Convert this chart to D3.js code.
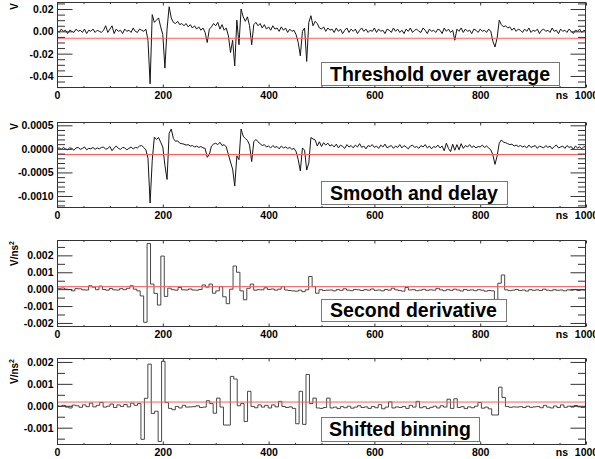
<!DOCTYPE html>
<html><head><meta charset="utf-8">
<script src="https://cdn.jsdelivr.net/npm/d3@7"></script>
<style>
body{margin:0;background:#fff;}
svg text{font-family:"Liberation Sans",Arial,Helvetica,sans-serif;font-weight:bold;fill:#000;}
</style></head>
<body><svg id="c" width="595" height="459"></svg>
<script>
// ---------------- DATA ----------------
const sampleStepNs = 4;               // waveform sampling grid (0..1000 ns)
// Panel 1: raw waveform, mV
const waveMilliV = [
 1,-1,2,0,1,-2,1,0,-1,2,
 0,1,-1,2,-2,1,0,2,-1,1,
 0,-1,1,5,-1,2,5,-2,2,0,
 1,-2,2,0,1,-1,3,0,-1,2,
 1,0,2,-8,-47,15,8,10,12,4,
 -3,-33,2,22,12,8,7,9,6,7,
 5,7,4,6,3,5,2,4,1,3,
 -1,-10,2,4,7,5,8,2,6,1,
 3,-4,-19,-8,-31,10,-12,20,13,9,
 13,5,-12,6,8,5,7,3,6,2,
 4,1,5,2,3,0,4,1,3,-1,
 2,0,1,-3,-10,-22,0,3,-27,8,
 14,5,9,7,3,2,4,0,3,1,
 2,-1,3,0,2,-2,1,3,-1,2,
 0,2,-2,1,3,0,2,-1,1,0,
 3,-1,2,0,1,-2,2,1,-1,3,
 0,2,-1,1,-2,2,0,3,-1,1,
 2,0,-1,3,1,-2,2,0,1,-1,
 2,1,-2,3,0,2,-1,1,-8,2,
 0,3,-1,2,0,1,-2,2,1,-1,
 2,0,1,-1,2,0,-9,-14,-6,10,
 6,4,5,3,4,1,3,0,2,1,
 -1,2,0,3,-1,1,0,2,-2,1,
 2,0,1,-1,3,0,1,-2,2,0,
 1,-1,2,0,-2,1,0,2,-1,1,
 0
];
// Panel 2: smoothed & delayed, microvolts
const smoothMicroV = [
 10,20,-10,30,0,-20,20,10,-30,20,
 30,-10,10,40,-20,10,0,30,-10,20,
 0,30,40,-10,10,50,-40,20,60,10,
 -10,30,20,-20,10,40,0,30,20,60,
 70,30,-20,-200,-1150,-250,250,200,240,140,
 40,-350,-650,330,420,220,160,170,120,110,
 100,80,90,60,70,40,60,30,50,20,
 10,-180,-120,60,100,120,90,140,70,90,
 40,-120,-280,-430,-790,-150,-230,420,270,220,
 180,80,-270,150,200,150,110,70,90,40,
 60,20,70,30,50,0,60,20,40,10,
 30,-10,10,-60,-230,-470,20,-30,-450,-300,
 240,210,190,60,150,50,130,80,120,60,
 90,40,100,20,80,50,10,90,40,70,
 20,80,40,110,30,60,0,70,50,90,
 30,60,10,80,40,100,20,50,70,10,
 60,30,90,20,70,40,0,60,80,30,
 50,10,70,40,90,20,60,0,50,30,
 80,20,60,-40,120,10,-60,100,-30,90,
 -20,110,10,70,40,90,30,60,20,50,
 40,80,30,60,20,-20,-130,-330,-150,120,
 190,140,130,110,90,100,60,80,50,70,
 40,60,20,80,30,50,70,10,60,40,
 20,70,30,60,0,50,80,20,40,60,
 10,70,30,50,-10,60,20,40,0,50,
 30
];
// Panel 3 & 4: histograms, micro V/ns^2
const binWidthNs = 6.5;
const secondStartNs = -5.2;
const shiftedStartNs = -3.8;
const secondDerivMicro = [
 60,50,70,0,-20,-100,30,20,-40,-50,
 200,120,-30,180,-20,-60,40,-40,-50,30,
 -30,50,200,0,-100,-400,-1960,2700,300,-250,
 -940,1960,-430,60,-30,-60,100,-40,-50,10,
 -50,-60,-20,250,120,300,-240,-100,150,-450,
 -860,0,1370,1000,-100,-630,50,300,-60,-30,
 -40,80,-20,10,-60,0,150,-50,-80,-100,
 -120,-60,-150,-40,750,150,-240,-30,-80,-60,
 -50,-100,-30,-70,20,-60,-90,-20,-40,-80,
 -30,-60,10,-70,-50,-100,-20,-60,60,-40,
 -80,-120,100,-50,-30,-90,-60,-10,-70,-40,
 -60,50,-40,-90,-30,-70,0,-50,-110,-20,
 -70,-40,-90,-30,-60,-120,-80,-100,-630,350,
 840,-40,-90,-60,-20,-80,-50,-110,-30,-70,
 -40,-80,0,-60,-90,-30,-70,-50,-100,-40,
 -60,-20,-80,-40,-60
];
const shiftedMicro = [
 0,-30,20,-60,-100,30,0,-70,40,-40,
 120,-50,20,150,-60,-20,80,-80,40,-30,
 60,-50,120,20,100,-1530,340,1900,-350,-250,
 -1630,2030,150,-120,-180,-30,-100,20,-60,-50,
 -40,0,-80,-60,230,100,-340,350,-60,-880,
 -880,1340,1220,0,100,-720,660,-30,-90,40,
 -60,20,-100,40,-50,200,-30,-80,-50,-120,
 -820,660,-850,1430,100,350,-100,-120,-80,350,
 -100,-60,-130,-40,-90,-20,-110,-60,0,-80,
 -50,-120,-30,-90,50,-140,-60,180,-100,-50,
 -80,-30,-120,20,-60,200,-90,-40,-130,-70,
 -20,-100,0,-60,300,-120,320,-80,-40,-130,
 -50,-90,-20,150,-110,-60,-140,-420,-420,850,
 380,-30,-70,-50,-60,-40,-80,-20,-70,-50,
 -30,-90,20,-60,-100,-10,-80,40,-70,-20,
 -60,10,-50,-80,-30
];
// thresholds (red lines), in the panel's own units
const thresholdP1 = -6.2, thresholdP2 = -120, thresholdP3 = 150, thresholdP4 = 170;
// tick values and labels
const xTickValues = [0,200,400,600,800,1000];
const xTickLabels = ["0","200","400","600","800","1000"];
const yTicksP1 = [20,0,-20,-40], yLabelsP1 = ["0.02","0.00","-0.02","-0.04"];
const yTicksP2 = [500,0,-500,-1000], yLabelsP2 = ["0.0005","0.0000","-0.0005","-0.0010"];
const yTicksP3 = [2000,1000,0,-1000,-2000], yLabelsP3 = ["0.002","0.001","0.000","-0.001","-0.002"];
const yTicksP4 = [2000,1000,0,-1000], yLabelsP4 = ["0.002","0.001","0.000","-0.001"];
const titles = ["Threshold over average","Smooth and delay","Second derivative","Shifted binning"];
const yTitles = ["V","V","V/ns","V/ns"];

// ---------------- LAYOUT ----------------
const X0 = 57, X1 = 586;
const x = d3.scaleLinear().domain([0,1000]).range([X0,X1]);
const panels = [
 {top:2,   bottom:88,  domain:[-50.8,26.3], ticks:yTicksP1, labels:yLabelsP1, minorStep:5,   kind:"line", data:waveMilliV, thr:thresholdP1, box:[321,62,559,85], sup:false},
 {top:122, bottom:208, domain:[-1255,570],  ticks:yTicksP2, labels:yLabelsP2, minorStep:100, kind:"line", data:smoothMicroV, thr:thresholdP2, box:[321,181,507,204], sup:false},
 {top:240, bottom:327, domain:[-2240,2910], ticks:yTicksP3, labels:yLabelsP3, minorStep:500, kind:"hist", data:secondDerivMicro, start:secondStartNs, thr:thresholdP3, box:[321,299,506,321], sup:true},
 {top:358, bottom:445, domain:[-1790,2180], ticks:yTicksP4, labels:yLabelsP4, minorStep:500, kind:"hist", data:shiftedMicro, start:shiftedStartNs, thr:thresholdP4, box:[321,417,479,441], sup:true}
];

const svg = d3.select("#c");
const frameColor = "#333";

panels.forEach((p,pi)=>{
  const y = d3.scaleLinear().domain(p.domain).range([p.bottom,p.top]);
  const g = svg.append("g");
  const clipId = "clip"+pi;
  svg.append("clipPath").attr("id",clipId).append("rect")
    .attr("x",X0).attr("y",p.top).attr("width",X1-X0).attr("height",p.bottom-p.top);

  let pathD;
  if (p.kind==="line") {
    const line = d3.line().x((d,i)=>x(i*sampleStepNs)).y(d=>y(d));
    pathD = line(p.data);
  } else {
    const pts = p.data.map((v,k)=>[p.start+k*binWidthNs, v]);
    pts.push([p.start+p.data.length*binWidthNs, p.data[p.data.length-1]]);
    const line = d3.line().x(d=>x(d[0])).y(d=>y(d[1])).curve(d3.curveStepAfter);
    pathD = line(pts);
  }
  g.append("path").attr("d",pathD).attr("clip-path",`url(#${clipId})`)
    .attr("fill","none").attr("stroke", p.kind==="line" ? "#151515" : "#333").attr("stroke-width", p.kind==="line" ? 1 : 0.9);

  g.append("line").attr("x1",X0).attr("x2",X1).attr("y1",y(p.thr)).attr("y2",y(p.thr))
    .attr("stroke","#ff5c5c").attr("stroke-width",1);

  g.append("rect").attr("x",X0+0.5).attr("y",p.top+0.5).attr("width",X1-X0-1).attr("height",p.bottom-p.top-1)
    .attr("fill","none").attr("stroke",frameColor).attr("stroke-width",1);

  const minor = d3.range(Math.ceil(p.domain[0]/p.minorStep)*p.minorStep, p.domain[1], p.minorStep)
      .filter(v=>!p.ticks.includes(v));
  const yl = g.append("g").attr("transform",`translate(${X0+0.5},0)`)
    .call(d3.axisLeft(y).tickValues(p.ticks).tickSize(-15).tickPadding(4).tickFormat((d,i)=>p.labels[i]));
  const ylm = g.append("g").attr("transform",`translate(${X0+0.5},0)`)
    .call(d3.axisLeft(y).tickValues(minor).tickSize(-7.5).tickFormat(""));
  const yr = g.append("g").attr("transform",`translate(${X1-0.5},0)`)
    .call(d3.axisRight(y).tickValues(p.ticks).tickSize(-15).tickFormat(""));
  const yrm = g.append("g").attr("transform",`translate(${X1-0.5},0)`)
    .call(d3.axisRight(y).tickValues(minor).tickSize(-7.5).tickFormat(""));
  const xMinor = d3.range(0,1001,50).filter(v=>!xTickValues.includes(v));
  const xb = g.append("g").attr("transform",`translate(0,${p.bottom-0.5})`)
    .call(d3.axisBottom(x).tickValues(xTickValues).tickSize(-3).tickPadding(4).tickFormat((d,i)=>xTickLabels[i]));
  const xbm = g.append("g").attr("transform",`translate(0,${p.bottom-0.5})`)
    .call(d3.axisBottom(x).tickValues(xMinor).tickSize(-1.6).tickFormat(""));
  const xt = g.append("g").attr("transform",`translate(0,${p.top+0.5})`)
    .call(d3.axisTop(x).tickValues(xTickValues).tickSize(-3).tickFormat(""));
  const xtm = g.append("g").attr("transform",`translate(0,${p.top+0.5})`)
    .call(d3.axisTop(x).tickValues(xMinor).tickSize(-1.6).tickFormat(""));
  [yl,ylm,yr,yrm,xb,xbm,xt,xtm].forEach(a=>{
    a.select(".domain").remove();
    a.selectAll(".tick line").attr("stroke",frameColor);
    a.selectAll("text").attr("font-size",10.5).attr("font-family",null).attr("fill","#000");
  });

  g.append("text").attr("x",562).attr("y",p.bottom+4).attr("dy","0.71em")
    .attr("text-anchor","middle").attr("font-size",10.5).text("ns");

  const yt = g.append("text").attr("transform",`translate(17.5,${p.top+1}) rotate(-90)`)
    .attr("text-anchor","end").attr("font-size",10);
  yt.append("tspan").text(yTitles[pi]);
  if (p.sup) yt.append("tspan").attr("font-size",7).attr("dy",-4).text("2");

  const b = p.box;
  g.append("rect").attr("x",b[0]+0.5).attr("y",b[1]+0.5).attr("width",b[2]-b[0]).attr("height",b[3]-b[1])
    .attr("fill","#fff").attr("stroke","#777").attr("stroke-width",1);
  g.append("text").attr("x",(b[0]+b[2])/2).attr("y",(b[1]+b[3])/2+7)
    .attr("text-anchor","middle").attr("font-size",19.5).text(titles[pi]);
});
</script>
</body></html>
